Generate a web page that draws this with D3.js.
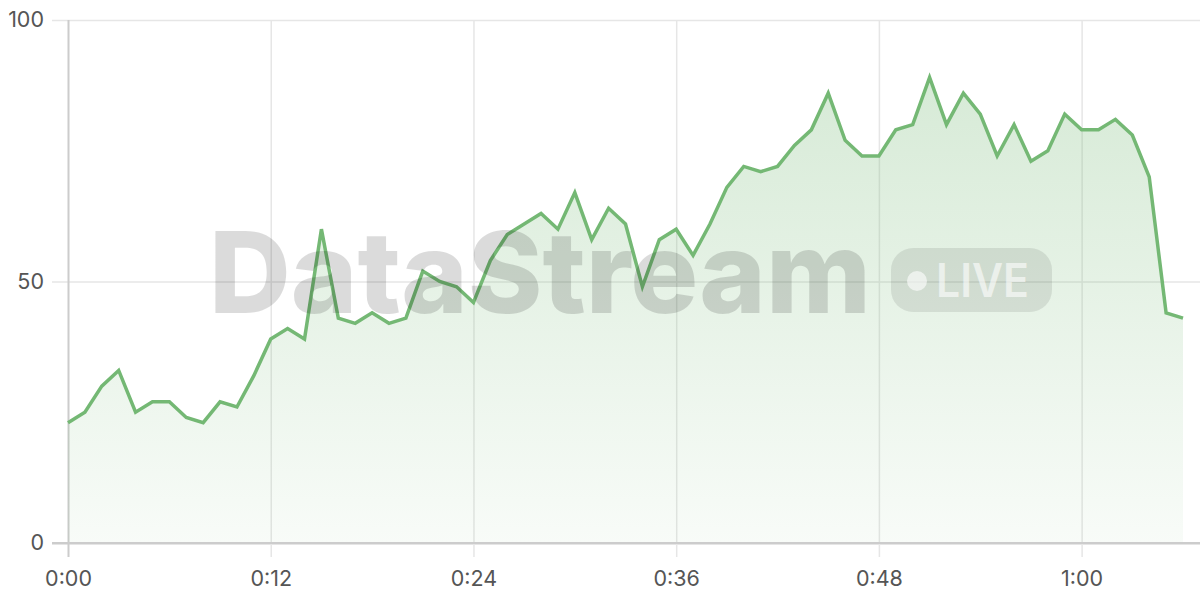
<!DOCTYPE html>
<html>
<head>
<meta charset="utf-8">
<script src="https://cdn.jsdelivr.net/npm/d3@7"></script>
<style>
  html, body { margin: 0; padding: 0; background: #fff; }
  svg { display: block; }
  text { font-family: "Inter", "Liberation Sans", sans-serif; }
</style>
</head>
<body>
<svg id="chart" width="1200" height="600"></svg>
<script>
// seconds elapsed
const seconds = d3.range(0, 67);
const values = [
  23, 25, 30, 33, 25, 27, 27, 24, 23, 27,
  26, 32, 39, 41, 39, 60, 43, 42, 44, 42,
  43, 52, 50, 49, 46, 54, 59, 61, 63, 60,
  67, 58, 64, 61, 49, 58, 60, 55, 61, 68,
  72, 71, 72, 76, 79, 86, 77, 74, 74, 79,
  80, 89, 80, 86, 82, 74, 80, 73, 75, 82,
  79, 79, 81, 78, 70, 44, 43
];
const xTicks = [0, 12, 24, 36, 48, 60];
const yTicks = [0, 50, 100];
const watermarkText = "DataStream";
const badgeText = "LIVE";

const data = seconds.map((s, i) => ({ s, v: values[i] }));

const svg = d3.select("#chart");
const mLeft = 68, mRight = 1183, mTop = 20, mBottom = 543;

const x = d3.scaleLinear().domain([0, 66]).range([mLeft, mRight]);
const y = d3.scaleLinear().domain([0, 100]).range([mBottom, mTop]);

const fmt = s => `${Math.floor(s / 60)}:${String(s % 60).padStart(2, "0")}`;

// gradient
const defs = svg.append("defs");
const grad = defs.append("linearGradient")
  .attr("id", "areaGrad")
  .attr("gradientUnits", "userSpaceOnUse")
  .attr("x1", 0).attr("x2", 0).attr("y1", mTop).attr("y2", mBottom);
grad.append("stop").attr("offset", "0%").attr("stop-color", "#74b874").attr("stop-opacity", 0.32);
grad.append("stop").attr("offset", "100%").attr("stop-color", "#74b874").attr("stop-opacity", 0.05);

// horizontal grid
const yAxis = d3.axisLeft(y).tickValues(yTicks).tickSize(-(1200 - mLeft)).tickPadding(8).tickFormat(d3.format("d"));
const gy = svg.append("g").attr("transform", `translate(${mLeft},0)`).call(yAxis);
gy.select(".domain").remove();
gy.selectAll(".tick line")
  .attr("x1", -16)
  .attr("stroke", d => d === 0 ? "#cccccc" : "#e6e6e6")
  .attr("stroke-width", d => d === 0 ? 2 : 1.5);
gy.selectAll(".tick text")
  .attr("x", -24)
  .attr("fill", "#555555")
  .style("font-size", "21.5px")
  .style("font-family", "Inter, 'Liberation Sans', sans-serif");

// vertical grid
const xAxis = d3.axisBottom(x).tickValues(xTicks).tickSize(0).tickFormat(fmt);
const gx = svg.append("g").attr("transform", `translate(0,${mBottom})`).call(xAxis);
gx.select(".domain").remove();
gx.selectAll(".tick line")
  .attr("y1", 14)
  .attr("y2", mTop - mBottom)
  .attr("stroke", d => d === 0 ? "#cccccc" : "#e6e6e6")
  .attr("stroke-width", d => d === 0 ? 2 : 1.5);
gx.selectAll(".tick text")
  .attr("y", 28)
  .attr("dy", "0.71em")
  .attr("fill", "#555555")
  .style("font-size", "21.5px")
  .style("font-family", "Inter, 'Liberation Sans', sans-serif");

// area
const area = d3.area().x(d => x(d.s)).y0(y(0)).y1(d => y(d.v));
svg.append("path").datum(data).attr("d", area).attr("fill", "url(#areaGrad)");

// redraw baseline over area
svg.append("line").attr("x1", mLeft - 16).attr("x2", 1200).attr("y1", y(0)).attr("y2", y(0))
  .attr("stroke", "#cccccc").attr("stroke-width", 2);

// line
const line = d3.line().x(d => x(d.s)).y(d => y(d.v));
svg.append("path").datum(data).attr("d", line)
  .attr("fill", "none").attr("stroke", "#74b874").attr("stroke-width", 3.5)
  .attr("stroke-linejoin", "miter");

// watermark
const wm = svg.append("g").attr("pointer-events", "none");
wm.append("text")
  .attr("x", 209).attr("y", 313)
  .attr("font-size", 113).attr("font-weight", 800)
  .attr("textLength", 662).attr("lengthAdjust", "spacingAndGlyphs")
  .attr("fill", "rgba(0,0,0,0.14)")
  .text(watermarkText);

wm.append("rect")
  .attr("x", 891).attr("y", 248).attr("width", 161).attr("height", 64).attr("rx", 22)
  .attr("fill", "rgba(0,0,0,0.09)");
wm.append("circle").attr("cx", 917).attr("cy", 281).attr("r", 10)
  .attr("fill", "rgba(255,255,255,0.6)");
wm.append("text")
  .attr("x", 936).attr("y", 297)
  .attr("font-size", 46).attr("font-weight", 600)
  .attr("textLength", 93).attr("lengthAdjust", "spacingAndGlyphs")
  .attr("fill", "rgba(255,255,255,0.6)")
  .text(badgeText);
</script>
</body>
</html>
